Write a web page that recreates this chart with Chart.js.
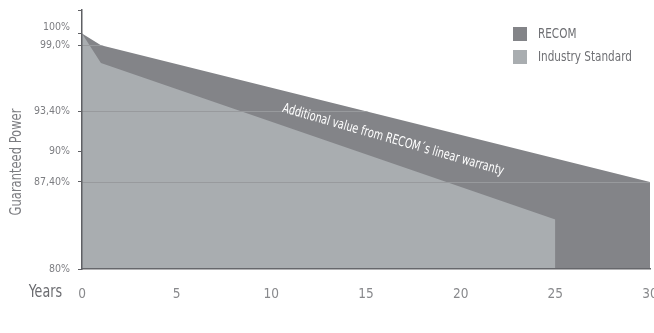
<!DOCTYPE html>
<html>
<head>
<meta charset="utf-8">
<script src="https://cdn.jsdelivr.net/npm/chart.js@4/dist/chart.umd.min.js"></script>
<style>
  html, body { margin: 0; padding: 0; background: #ffffff; overflow: hidden; width: 654px; height: 333px; }
  #wrap { position: absolute; left: 0; top: 0; width: 664px; height: 333px; }
</style>
</head>
<body>
<div id="wrap"><canvas id="c"></canvas></div>
<script>
// ---- data ----
const recomYears = [0, 1, 30];
const recomValues = [100, 99.0, 87.4];
const industryYears = [0, 1, 25, 25];
const industryValues = [100, 97.5, 84.2, 80];
const xTickValues = [0, 5, 10, 15, 20, 25, 30];
const yTickValues = [80, 87.4, 90, 93.4, 99, 100, 102];
const yTickLabels = ['80%', '87,40%', '90%', '93,40%', '99,0%', '100%', ''];
const yGridValues = [87.4, 93.4, 99];
const seriesNames = ['RECOM', 'Industry Standard'];
const annotationText = 'Additional value from RECOM\u00B4s linear warranty';
const xTitle = 'Years';
const yTitle = 'Guaranteed Power';

const FONT = "'DejaVu Sans Condensed', 'DejaVu Sans', sans-serif";
const DARK = '#838488';
const LIGHT = '#a9adb0';

function pts(xs, ys) { return xs.map((x, i) => ({ x: x, y: ys[i] })); }

// draw condensed text by squeezing horizontally
function squeezed(ctx, text, x, y, sx, align) {
  ctx.save();
  ctx.translate(x, y);
  ctx.scale(sx, 1);
  ctx.textAlign = align;
  ctx.fillText(text, 0, 0);
  ctx.restore();
}

const extras = {
  id: 'extras',
  afterDatasetsDraw(chart) {
    // horizontal reference lines, visible only inside the filled RECOM area
    const ctx = chart.ctx;
    const xs = chart.scales.x, ys = chart.scales.y;
    const meta = chart.getDatasetMeta(1);
    const area = chart.chartArea;
    ctx.save();
    ctx.beginPath();
    meta.data.forEach((p, i) => { if (i === 0) ctx.moveTo(p.x, p.y); else ctx.lineTo(p.x, p.y); });
    const last = meta.data[meta.data.length - 1];
    ctx.lineTo(last.x, area.bottom);
    ctx.lineTo(meta.data[0].x, area.bottom);
    ctx.closePath();
    ctx.clip();
    ctx.strokeStyle = '#989a9d';
    ctx.lineWidth = 1;
    yGridValues.forEach(v => {
      const y = Math.round(ys.getPixelForValue(v)) + 0.5;
      ctx.beginPath();
      ctx.moveTo(area.left, y);
      ctx.lineTo(area.right, y);
      ctx.stroke();
    });
    ctx.restore();
  },
  afterDraw(chart) {
    const ctx = chart.ctx;
    const xs = chart.scales.x, ys = chart.scales.y;
    ctx.save();
    // annotation text
    ctx.fillStyle = '#ffffff';
    ctx.font = '13.5px ' + FONT;
    ctx.textBaseline = 'alphabetic';
    ctx.translate(xs.getPixelForValue(10.55), ys.getPixelForValue(93.36));
    ctx.rotate(16 * Math.PI / 180);
    squeezed(ctx, annotationText, 0, 0, 0.8, 'left');
    ctx.restore();

    ctx.save();
    // x title
    ctx.fillStyle = '#6b6c70';
    ctx.font = '17px ' + FONT;
    ctx.textBaseline = 'middle';
    squeezed(ctx, xTitle, 62, 293, 0.83, 'right');
    // y title
    ctx.fillStyle = '#7b7c80';
    ctx.font = '16px ' + FONT;
    ctx.translate(17, 162);
    ctx.rotate(-Math.PI / 2);
    squeezed(ctx, yTitle, 0, 0, 0.8, 'center');
    ctx.restore();

    // legend
    ctx.save();
    const order = [1, 0];
    order.forEach((di, i) => {
      const ds = chart.data.datasets[di];
      const top = 27 + i * 23;
      ctx.fillStyle = ds.backgroundColor;
      ctx.fillRect(513, top, 14, 14);
      ctx.fillStyle = '#6e6f73';
      ctx.font = '14px ' + FONT;
      ctx.textBaseline = 'middle';
      squeezed(ctx, ds.label, 538, top + 7.5, 0.83, 'left');
    });
    ctx.restore();
  }
};

new Chart(document.getElementById('c'), {
  type: 'line',
  data: {
    datasets: [
      {
        label: seriesNames[1],
        data: pts(industryYears, industryValues),
        backgroundColor: LIGHT,
        borderWidth: 0,
        pointRadius: 0,
        fill: 'start',
        tension: 0
      },
      {
        label: seriesNames[0],
        data: pts(recomYears, recomValues),
        backgroundColor: DARK,
        borderWidth: 0,
        pointRadius: 0,
        fill: 'start',
        tension: 0
      }
    ]
  },
  options: {
    responsive: true,
    maintainAspectRatio: false,
    animation: false,
    layout: { padding: { top: 10, right: 14, left: 0, bottom: 0 } },
    plugins: { legend: { display: false }, tooltip: { enabled: false } },
    scales: {
      x: {
        type: 'linear',
        min: 0,
        max: 30,
        afterBuildTicks: (s) => { s.ticks = xTickValues.map(v => ({ value: v })); },
        afterFit: (s) => { s.height = 64; s.paddingRight = 0; s.paddingLeft = 0; },
        grid: { display: false, drawTicks: false },
        border: { display: true, color: '#66676b', width: 1.5, z: 1 },
        ticks: { color: '#88898c', font: { family: FONT, size: 13.5 }, padding: 17, maxRotation: 0 }
      },
      y: {
        type: 'linear',
        min: 80,
        max: 102,
        afterBuildTicks: (s) => { s.ticks = yTickValues.map(v => ({ value: v })); },
        afterFit: (s) => { s.width = 82; s.paddingTop = 0; s.paddingBottom = 0; },
        grid: {
          drawTicks: true,
          drawOnChartArea: false,
          tickLength: 4,
          tickColor: '#5f6064',
          lineWidth: 1
        },
        border: { display: true, color: '#5f6064', width: 1.5, z: 1 },
        ticks: {
          color: '#7d7e82',
          font: { family: FONT, size: 10.5 },
          padding: 8,
          autoSkip: false,
          callback: (v) => {
            const i = yTickValues.indexOf(v);
            if (i < 0) return '';
            return v === 100 ? [yTickLabels[i], ''] : yTickLabels[i];
          }
        }
      }
    }
  },
  plugins: [extras]
});
</script>
</body>
</html>
